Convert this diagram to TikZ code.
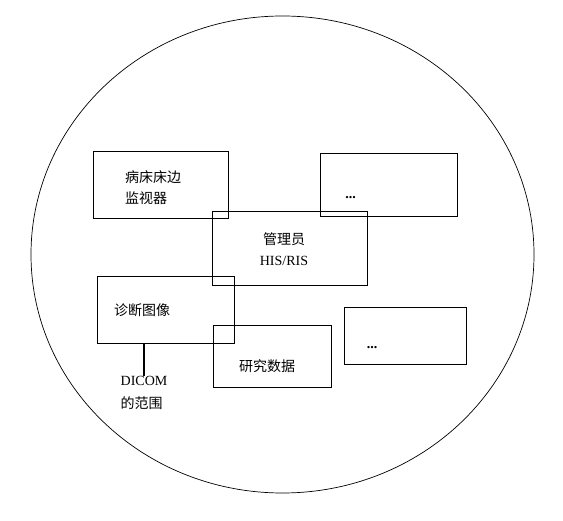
\documentclass[tikz,border=0pt]{standalone}
\usepackage{fontspec}
\setmainfont{Liberation Serif}
\newfontfamily\cjk{Noto Sans CJK SC}

\begin{document}
\begin{tikzpicture}[x=1pt, y=-1pt,
    box/.style={draw, line width=0.8pt, rectangle, inner sep=0pt},
    txt/.style={font=\fontsize{14}{21}\selectfont, inner sep=0pt}]
    \useasboundingbox (0,0) rectangle (563,521);

    % Outer scope of the standard
    \draw[line width=0.7pt] (282.5,254.5) ellipse [x radius=251.5pt, y radius=238.5pt];

    % Boxes (not filled, they overlap)
    \node[box, minimum width=135pt, minimum height=67pt] (bedside) at (160.5,184.5) {};
    \node[box, minimum width=137pt, minimum height=63pt] (otherA) at (388.5,184.5) {};
    \node[box, minimum width=155pt, minimum height=74pt] (admin) at (289.5,248) {};
    \node[box, minimum width=137pt, minimum height=67pt] (diag) at (165.5,309.5) {};
    \node[box, minimum width=118pt, minimum height=62pt] (research) at (272,356) {};
    \node[box, minimum width=122pt, minimum height=57pt] (otherB) at (405,335.5) {};

    % Box texts
    \node[txt, align=left, anchor=west] (bedsidetxt) at (125,187.5) {\cjk 病床床边\\\cjk 监视器};
    \node[txt, align=center] (admintxt) at (284,249.5) {{\cjk 管理员}\\HIS/RIS};
    \node[txt] (diagtxt) at (142,310) {\cjk 诊断图像};
    \node[txt] (researchtxt) at (267,366) {\cjk 研究数据};
    \node[txt] (dotsA) at (350.5,198) {\textbf{...}};
    \node[txt] (dotsB) at (372,348) {\textbf{...}};

    % DICOM label and its pointer
    \node[txt, align=left, anchor=north, font=\fontsize{14}{23}\selectfont] (dicom) at (144,376) {DICOM\\{\cjk 的范围}};
    \draw[line width=1.5pt] (diag.south -| dicom.north) -- (dicom.north);
\end{tikzpicture}
\end{document}
